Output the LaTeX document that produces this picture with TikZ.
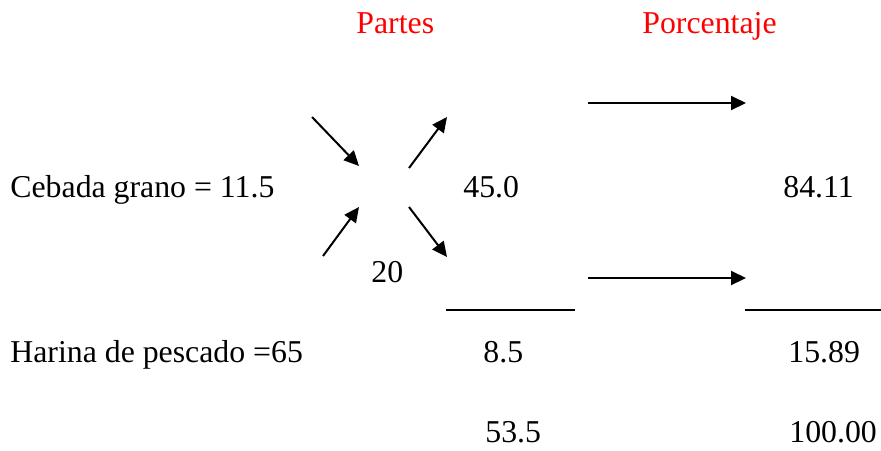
\documentclass[tikz,border=0pt]{standalone}
\usepackage{fontspec}
\setmainfont{Liberation Serif}
\usetikzlibrary{arrows.meta}
\begin{document}
\begin{tikzpicture}[x=0.5pt,y=-0.5pt,
  txt/.style={anchor=base west,inner sep=0pt,font=\fontsize{15.9pt}{19pt}\selectfont},
  head/.style={txt,text=red},
  arr/.style={line width=1pt,-{Triangle[length=7.5pt,width=7pt]}},
  rule/.style={line width=0.6pt}]
\useasboundingbox[fill=white] (0,0) rectangle (881,450);
\node[head] (partes) at (356,33) {Partes};
\node[head] (porc) at (642,33) {Porcentaje};
\node[txt] (cebada) at (10,197) {Cebada grano = 11.5};
\node[txt] (v45) at (463,197) {45.0};
\node[txt] (v84) at (783,197) {84.11};
\node[txt] (v20) at (371,282) {20};
\node[txt] (harina) at (10,362) {Harina de pescado =65};
\node[txt] (v85) at (483,362) {8.5};
\node[txt] (v1589) at (788,362) {15.89};
\node[txt] (v535) at (485,442) {53.5};
\node[txt] (v100) at (789,442) {100.00};
% arrow coordinates
\coordinate (a1s) at (312,117); \coordinate (a1e) at (359,166);
\coordinate (a2s) at (323,256); \coordinate (a2e) at (359,207);
\coordinate (a3s) at (409,168); \coordinate (a3e) at (447,117);
\coordinate (a4s) at (409,207); \coordinate (a4e) at (447,257);
\coordinate (h1s) at (588,103); \coordinate (h1e) at (746,103);
\coordinate (h2s) at (588,278); \coordinate (h2e) at (746,278);
\coordinate (l1s) at (446,310); \coordinate (l1e) at (575,310);
\coordinate (l2s) at (745,310); \coordinate (l2e) at (881,310);
\draw[arr] (a1s) -- (a1e);
\draw[arr] (a2s) -- (a2e);
\draw[arr] (a3s) -- (a3e);
\draw[arr] (a4s) -- (a4e);
\draw[arr] (h1s) -- (h1e);
\draw[arr] (h2s) -- (h2e);
\draw[rule] (l1s) -- (l1e);
\draw[rule] (l2s) -- (l2e);
\end{tikzpicture}
\end{document}
